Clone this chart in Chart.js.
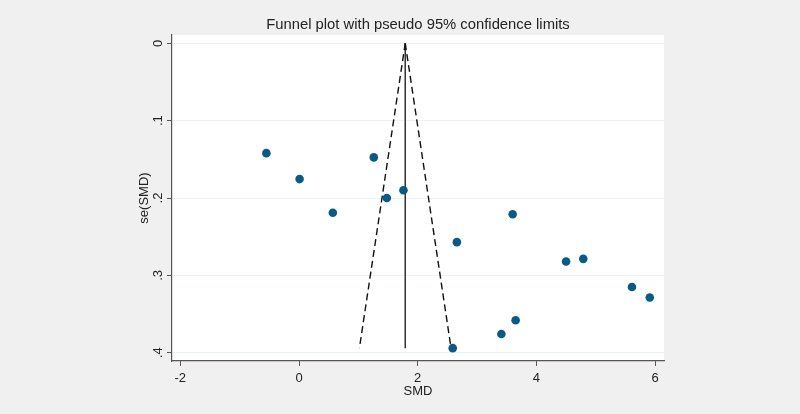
<!DOCTYPE html>
<html>
<head>
<meta charset="utf-8">
<script src="https://cdn.jsdelivr.net/npm/chart.js@4/dist/chart.umd.min.js"></script>
<style>
html,body{margin:0;padding:0;background:#f0f0f0;}
#wrap{width:800px;height:414px;position:relative;}
</style>
</head>
<body>
<div id="wrap"><canvas id="c" width="800" height="414"></canvas></div>
<script>
// Study estimates
const smd = [-0.55, 0.01, 0.57, 1.26, 1.48, 1.76, 2.66, 3.60, 4.50, 4.79, 5.61, 5.91, 3.65, 3.41, 2.59];
const seSmd = [0.142, 0.1755, 0.219, 0.1475, 0.200, 0.190, 0.257, 0.221, 0.282, 0.2786, 0.315, 0.3286, 0.358, 0.3757, 0.394];
// Pooled estimate and funnel limits
const pooled = 1.79;
const seMax = 0.394;
const xTicks = [-2, 0, 2, 4, 6];
const yTicks = [0, 0.1, 0.2, 0.3, 0.4];
const titleText = 'Funnel plot with pseudo 95% confidence limits';

const points = smd.map((v, i) => ({x: v, y: seSmd[i]}));
const lowerLimit = [{x: pooled, y: 0}, {x: pooled - 1.96 * seMax, y: seMax}];
const upperLimit = [{x: pooled, y: 0}, {x: pooled + 1.96 * seMax, y: seMax}];
const pooledLine = [{x: pooled, y: 0}, {x: pooled, y: seMax}];

const FONT = '"Liberation Sans", Arial, sans-serif';

const bgPlugin = {
  id: 'bg',
  beforeDraw(chart) {
    const {ctx, chartArea: a} = chart;
    ctx.save();
    ctx.fillStyle = '#f0f0f0';
    ctx.fillRect(0, 0, chart.width, chart.height);
    ctx.fillStyle = '#ffffff';
    ctx.fillRect(a.left, a.top, a.right - a.left, a.bottom - a.top);
    ctx.restore();
  },
  afterDraw(chart) {
    const {ctx, chartArea: a} = chart;
    ctx.save();
    ctx.fillStyle = '#222';
    ctx.font = '14.8px ' + FONT;
    ctx.textAlign = 'center';
    ctx.textBaseline = 'middle';
    ctx.fillText(titleText, (a.left + a.right) / 2, 25);
    ctx.restore();
  }
};

new Chart(document.getElementById('c'), {
  type: 'scatter',
  data: {
    datasets: [
      {data: pooledLine, showLine: true, borderColor: '#333', borderWidth: 1.5, pointRadius: 0, order: 3},
      {data: lowerLimit, showLine: true, borderColor: '#111', borderWidth: 1.4, borderDash: [7, 4], pointRadius: 0, order: 2},
      {data: upperLimit, showLine: true, borderColor: '#111', borderWidth: 1.4, borderDash: [7, 4], pointRadius: 0, order: 2},
      {data: points, backgroundColor: '#0b5a86', borderColor: '#0b5a86', pointRadius: 4.3, borderWidth: 0, order: 1}
    ]
  },
  options: {
    responsive: false,
    animation: false,
    events: [],
    layout: {padding: {left: 137, right: 136, top: 35, bottom: 15}},
    plugins: {legend: {display: false}, tooltip: {enabled: false}, title: {display: false}},
    scales: {
      x: {
        type: 'linear',
        min: -2.14, max: 6.15,
        afterBuildTicks(s) { s.ticks = xTicks.map(v => ({value: v})); },
        afterFit(s) { s.height = 38; },
        grid: {drawOnChartArea: false, drawTicks: true, tickLength: 5, tickColor: '#555'},
        border: {display: true, color: '#555', width: 1.2},
        ticks: {font: {family: FONT, size: 13}, color: '#222', padding: 5, callback: v => String(v)},
        title: {display: true, text: 'SMD', font: {family: FONT, size: 13}, color: '#222', padding: {top: 0, bottom: 0}}
      },
      y: {
        type: 'linear',
        reverse: true,
        min: -0.0107, max: 0.4106,
        afterBuildTicks(s) { s.ticks = yTicks.map(v => ({value: v})); },
        afterFit(s) { s.width = 35; },
        grid: {drawOnChartArea: true, color: '#eaf3f4', lineWidth: 1, drawTicks: true, tickLength: 5, tickColor: '#555'},
        border: {display: true, color: '#555', width: 1.2},
        ticks: {font: {family: FONT, size: 13}, color: '#222', minRotation: 90, maxRotation: 90, padding: 3, crossAlign: 'center',
          callback: v => v === 0 ? '0' : String(Math.round(v * 10) / 10).replace(/^0/, '')},
        title: {display: true, text: 'se(SMD)', font: {family: FONT, size: 13}, color: '#222', padding: {top: 0, bottom: 0}}
      }
    }
  },
  plugins: [bgPlugin]
});
</script>
</body>
</html>
